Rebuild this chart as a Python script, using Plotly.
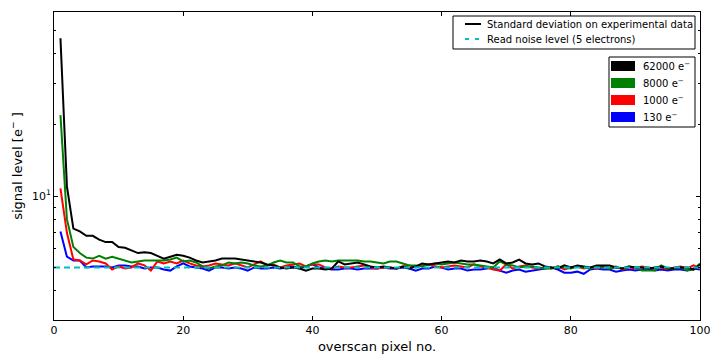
import plotly.graph_objects as go

pixels = list(range(1, 101))

std_62000 = [46.5, 11.0, 7.3, 7.1, 6.8, 6.8, 6.55, 6.4, 6.4, 6.1,
             6.05, 5.9, 5.75, 5.8, 5.75, 5.6, 5.45, 5.55, 5.65, 5.6,
             5.5, 5.35, 5.25, 5.3, 5.35, 5.45, 5.45, 5.45, 5.4, 5.35,
             5.3, 5.25, 5.15, 5.1, 5.0, 4.95, 5.0, 4.95, 4.85, 4.95,
             4.95, 4.9, 4.95, 5.3, 5.15, 5.2, 5.25, 5.15, 5.05, 5.0,
             5.05, 5.0, 4.95, 5.05, 4.95, 5.05, 5.2, 5.15, 5.2, 5.25,
             5.3, 5.25, 5.35, 5.3, 5.3, 5.35, 5.3, 5.2, 5.4, 5.2,
             5.25, 5.4, 5.2, 5.15, 5.2, 5.05, 5.0, 4.95, 5.1, 5.0,
             5.1, 5.05, 5.0, 5.1, 5.1, 5.1, 5.0, 4.95, 5.05, 5.0,
             5.0, 4.95, 5.0, 5.05, 4.95, 4.95, 5.0, 5.0, 4.9, 5.15]

std_8000 = [22.0, 8.0, 6.1, 5.75, 5.5, 5.45, 5.6, 5.45, 5.55, 5.45,
            5.35, 5.25, 5.3, 5.35, 5.35, 5.35, 5.35, 5.4, 5.5, 5.3,
            5.35, 5.25, 5.05, 4.95, 5.05, 5.1, 5.25, 5.2, 5.25, 5.2,
            5.1, 5.05, 5.1, 5.25, 5.35, 5.25, 5.25, 5.05, 5.05, 5.2,
            5.3, 5.35, 5.3, 5.35, 5.35, 5.35, 5.35, 5.3, 5.3, 5.25,
            5.2, 5.3, 5.3, 5.2, 5.1, 5.1, 5.05, 5.15, 5.2, 5.15,
            5.2, 5.25, 5.2, 5.15, 5.15, 5.1, 5.05, 5.0, 5.3, 5.15,
            5.1, 5.0, 5.05, 5.05, 5.0, 4.95, 4.95, 5.05, 5.0, 4.95,
            5.05, 5.0, 4.95, 5.05, 5.0, 4.95, 5.0, 4.95, 5.05, 5.0,
            4.85, 4.85, 4.85, 5.1, 4.95, 4.95, 5.0, 4.85, 4.9, 5.2]

std_1000 = [10.8, 7.0, 5.4, 5.35, 5.15, 5.35, 5.3, 5.2, 4.9, 5.05,
            4.95, 5.0, 5.2, 5.1, 4.85, 5.3, 5.2, 5.3, 5.2, 5.35,
            5.2, 5.1, 5.05, 5.1, 5.2, 5.15, 5.1, 5.2, 5.1, 5.0,
            5.15, 5.3, 5.1, 5.15, 5.0, 5.1, 5.15, 5.2, 5.05, 5.15,
            5.15, 5.0, 4.95, 5.05, 5.0, 5.0, 5.05, 5.1, 5.0, 4.95,
            5.0, 5.0, 4.95, 5.05, 5.1, 5.0, 5.1, 5.15, 5.05, 5.0,
            5.05, 5.1, 5.05, 5.0, 5.15, 5.05, 5.0, 4.9, 4.85, 5.15,
            4.95, 5.05, 5.1, 5.0, 4.95, 5.0, 4.95, 5.05, 4.9, 5.0,
            5.05, 4.95, 5.0, 4.95, 5.05, 5.0, 5.05, 4.9, 5.0, 4.95,
            5.05, 5.0, 4.95, 5.0, 4.9, 5.0, 5.05, 4.95, 5.1, 4.95]

std_130 = [7.1, 5.55, 5.35, 5.35, 5.0, 5.05, 5.05, 5.05, 5.0, 5.1,
           5.1, 5.05, 5.05, 4.95, 5.0, 5.0, 4.9, 4.85, 5.05, 5.2,
           5.05, 5.0, 4.95, 4.85, 5.0, 5.0, 4.95, 5.0, 4.95, 4.85,
           5.0, 4.95, 4.95, 5.0, 4.95, 5.0, 5.05, 4.95, 5.05, 5.15,
           5.0, 4.95, 4.9, 4.9, 4.95, 4.95, 4.9, 4.95, 4.95, 4.95,
           5.0, 4.95, 4.95, 5.0, 4.95, 4.85, 4.95, 4.95, 5.05, 5.0,
           4.9, 4.95, 4.95, 4.85, 4.9, 4.9, 4.95, 5.0, 4.85, 4.75,
           4.85, 4.9, 4.8, 4.85, 4.9, 4.95, 5.0, 4.9, 4.75, 4.75,
           4.8, 4.7, 4.9, 4.95, 4.9, 4.9, 4.8, 4.85, 4.9, 4.85,
           4.9, 4.95, 4.85, 4.9, 4.85, 4.9, 4.9, 4.85, 4.95, 4.9]

read_noise = 5
series_names = ["62000 e<sup>−</sup>", "8000 e<sup>−</sup>", "1000 e<sup>−</sup>", "130 e<sup>−</sup>"]
series_colors = ["black", "#008000", "#ff0000", "#0000ff"]
series_values = [std_62000, std_8000, std_1000, std_130]
noise_color = '#00bfbf'

fig = go.Figure()

# blue underneath, black on top
for name, vals, col in reversed(list(zip(series_names, series_values, series_colors))):
    fig.add_trace(go.Scatter(x=pixels, y=vals, mode='lines', name=name,
                             line=dict(color=col, width=2), showlegend=False))

fig.add_trace(go.Scatter(x=[0, 100], y=[read_noise, read_noise], mode='lines',
                         name='Read noise level (5 electrons)',
                         line=dict(color=noise_color, width=2, dash='6px,4px'),
                         showlegend=False))


# the two matplotlib-style legend boxes, placed in plot-area pixels
# (plot area: x 54..700, y 12..320 in window pixels)
def px(x):
    return (x - 54) / 646


def py(y):
    return (320 - y) / 308


shapes = []
annotations = []
txt_font = dict(family='DejaVu Sans', size=10, color='black')

# legend 1: line styles
shapes.append(dict(type='rect', xref='paper', yref='paper', x0=px(453), x1=px(695),
                   y0=py(49), y1=py(16), line=dict(color='black', width=1), fillcolor='white'))
legend1 = [('Standard deviation on experimental data', 'black', 'solid', 24),
           ('Read noise level (5 electrons)', noise_color, '4px,6px', 39)]
for label, col, dash, yy in legend1:
    shapes.append(dict(type='line', xref='paper', yref='paper', x0=px(465), x1=px(481),
                       y0=py(yy), y1=py(yy), line=dict(color=col, width=2, dash=dash)))
    annotations.append(dict(xref='paper', yref='paper', x=px(485), y=py(yy), text=label,
                            showarrow=False, xanchor='left', yanchor='middle', font=txt_font))

# legend 2: colour patches
shapes.append(dict(type='rect', xref='paper', yref='paper', x0=px(609), x1=px(695),
                   y0=py(127), y1=py(57), line=dict(color='black', width=1), fillcolor='white'))
for i, (label, col) in enumerate(zip(series_names, series_colors)):
    yc = 66 + 17 * i
    shapes.append(dict(type='rect', xref='paper', yref='paper', x0=px(611), x1=px(635),
                       y0=py(yc + 5), y1=py(yc - 5), line=dict(width=0), fillcolor=col))
    annotations.append(dict(xref='paper', yref='paper', x=px(641), y=py(yc), text=label,
                            showarrow=False, xanchor='left', yanchor='middle', font=txt_font))

# page body adds an 8px margin, so the figure is 8px smaller than the window
fig.update_layout(
    width=712, height=352,
    margin=dict(l=46, r=20, t=4, b=40),
    plot_bgcolor='white', paper_bgcolor='white',
    font=dict(family='DejaVu Sans', size=11, color='black'),
    showlegend=False,
    shapes=shapes,
    annotations=annotations,
    xaxis=dict(range=[0, 100], dtick=20, ticks='inside', ticklen=4, tickcolor='black',
               showline=True, linecolor='black', linewidth=1, mirror='ticks',
               showgrid=False, zeroline=False, automargin=False,
               title=dict(text='overscan pixel no.', font=dict(size=13), standoff=5)),
    yaxis=dict(type='log', range=[0.477, 1.778], tickmode='array', tickvals=[10],
               ticktext=['10<sup>1</sup>'], ticks='inside', ticklen=4, tickcolor='black',
               showline=True, linecolor='black', linewidth=1, mirror='ticks',
               showgrid=False, zeroline=False, automargin=False,
               minor=dict(tickmode='array', tickvals=[3, 4, 5, 6, 7, 8, 9, 20, 30, 40, 50],
                          ticks='inside', ticklen=2, tickcolor='black'),
               title=dict(text='signal level [e<sup>−</sup> ]', font=dict(size=13), standoff=6)),
)

fig.write_html("out.html")
